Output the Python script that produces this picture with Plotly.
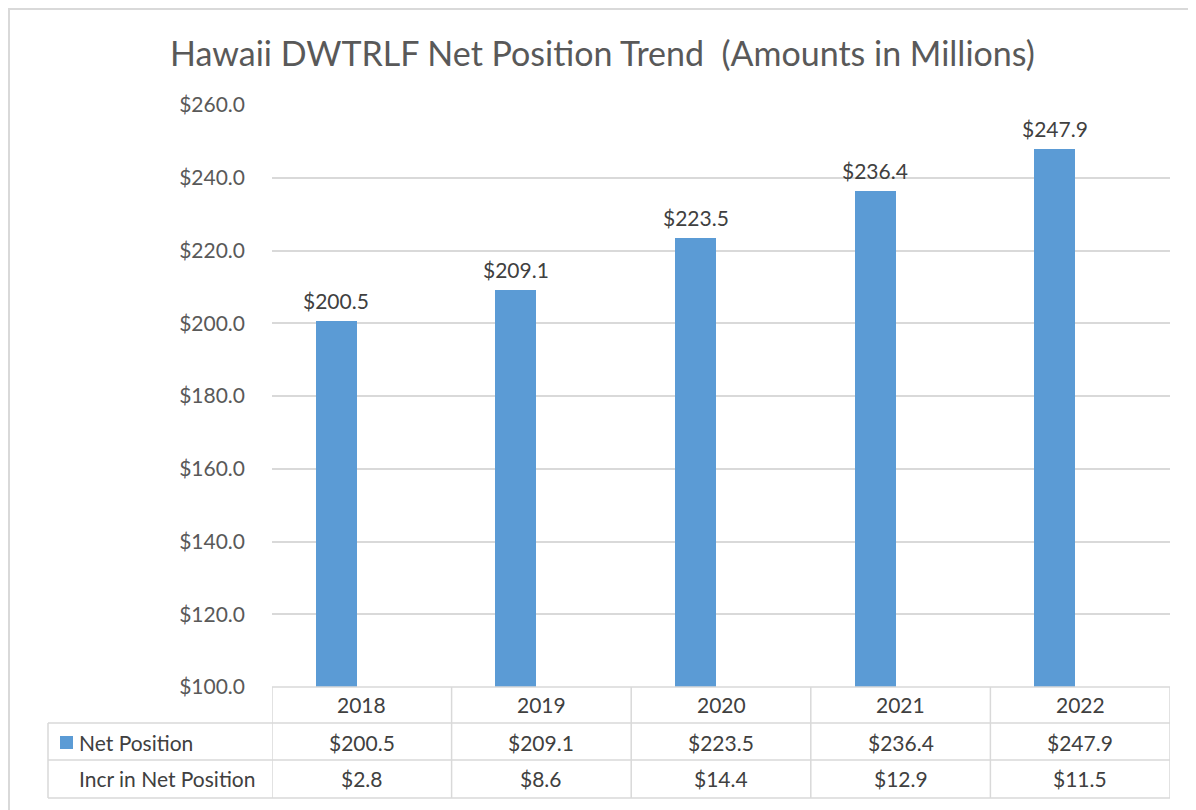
import plotly.graph_objects as go

years = ["2018", "2019", "2020", "2021", "2022"]
net_position = [200.5, 209.1, 223.5, 236.4, 247.9]
incr_net_position = [2.8, 8.6, 14.4, 12.9, 11.5]
row_labels = ["Net Position", "Incr in Net Position"]
title_text = "Hawaii DWTRLF Net Position Trend  (Amounts in Millions)"

OFF = 8  # page body margin
W, H = 1196 - OFF, 810 - OFF
L, R, T, B = 272, 1170, 105, 687  # in reference pixels
FONT = "Lato"
GRID = "#d9d9d9"
TXT = "#404040"
BAR = "#5B9BD5"
FS = 21
BAR_W, BAR_OFF = 0.228, -0.256


def px_x(px):
    return (px - L) / (R - L)


def px_y(py):
    return (B - py) / (B - T)


fig = go.Figure()
fig.add_trace(go.Bar(
    x=list(range(len(years))),
    y=net_position,
    width=BAR_W,
    offset=BAR_OFF,
    marker=dict(color=BAR, line=dict(width=0)),
    name="Net Position",
    showlegend=False,
    hovertemplate="%{y:$.1f}<extra></extra>",
))

shapes = []
line = dict(color=GRID, width=1.5)
# outer chart border (top & left)
shapes.append(dict(type="line", xref="paper", yref="paper", x0=px_x(OFF), x1=px_x(1196), y0=px_y(OFF + 1), y1=px_y(OFF + 1), line=dict(color=GRID, width=2)))
shapes.append(dict(type="line", xref="paper", yref="paper", x0=px_x(OFF + 1), x1=px_x(OFF + 1), y0=px_y(OFF), y1=px_y(810), line=dict(color=GRID, width=2)))

row_tops = [687, 723, 760, 798]
tbl_left = 48
# horizontal table lines
shapes.append(dict(type="line", xref="x", yref="paper", x0=-0.5, x1=len(years) - 0.5, y0=px_y(row_tops[0]), y1=px_y(row_tops[0]), line=line))
for ry in row_tops[1:]:
    shapes.append(dict(type="line", xref="paper", yref="paper", x0=px_x(tbl_left), x1=1, y0=px_y(ry), y1=px_y(ry), line=line))
# vertical table lines
shapes.append(dict(type="line", xref="paper", yref="paper", x0=px_x(tbl_left), x1=px_x(tbl_left), y0=px_y(row_tops[1]), y1=px_y(row_tops[3]), line=line))
for i in range(len(years) + 1):
    shapes.append(dict(type="line", xref="x", yref="paper", x0=i - 0.5, x1=i - 0.5, y0=px_y(row_tops[0]), y1=px_y(row_tops[3]), line=line))
# legend key
shapes.append(dict(type="rect", xref="paper", yref="paper", x0=px_x(60), x1=px_x(73), y0=px_y(749), y1=px_y(736), fillcolor=BAR, line=dict(width=0)))

ann = []
# data labels above bars
for i, v in enumerate(net_position):
    ann.append(dict(x=i + BAR_OFF + BAR_W / 2, xref="x", y=v, yref="y", text=f"${v:.1f}", showarrow=False,
                    font=dict(family=FONT, size=FS, color=TXT), xanchor="center", yanchor="bottom", yshift=6))

row_centers = [705, 742, 779]
for i, yr in enumerate(years):
    ann.append(dict(x=i, xref="x", y=px_y(row_centers[0]), yref="paper", text=yr, showarrow=False,
                    font=dict(family=FONT, size=FS, color=TXT), xanchor="center", yanchor="middle"))
    ann.append(dict(x=i, xref="x", y=px_y(row_centers[1]), yref="paper", text=f"${net_position[i]:.1f}", showarrow=False,
                    font=dict(family=FONT, size=FS, color=TXT), xanchor="center", yanchor="middle"))
    ann.append(dict(x=i, xref="x", y=px_y(row_centers[2]), yref="paper", text=f"${incr_net_position[i]:.1f}", showarrow=False,
                    font=dict(family=FONT, size=FS, color=TXT), xanchor="center", yanchor="middle"))
ann.append(dict(x=px_x(77), xref="paper", y=px_y(row_centers[1]), yref="paper", text=row_labels[0], showarrow=False,
                font=dict(family=FONT, size=FS, color=TXT), xanchor="left", yanchor="middle"))
ann.append(dict(x=px_x(77), xref="paper", y=px_y(row_centers[2]), yref="paper", text=row_labels[1], showarrow=False,
                font=dict(family=FONT, size=FS, color=TXT), xanchor="left", yanchor="middle"))
# title
ann.append(dict(x=px_x(602), xref="paper", y=px_y(52), yref="paper", text=title_text, showarrow=False,
                font=dict(family=FONT, size=34, color="#595959"), xanchor="center", yanchor="middle"))

fig.update_layout(
    width=W, height=H,
    margin=dict(l=L - OFF, r=1196 - R, t=T - OFF, b=810 - B, pad=0),
    paper_bgcolor="white", plot_bgcolor="white",
    shapes=shapes, annotations=ann,
    bargap=0,
    xaxis=dict(range=[-0.5, len(years) - 0.5], showticklabels=False, showgrid=False, zeroline=False,
               showline=False, ticks=""),
    yaxis=dict(range=[100, 260], dtick=20, tickprefix="$", tickformat=".1f", showgrid=True,
               gridcolor=GRID, gridwidth=1.5, zeroline=False, showline=False, ticks="",
               ticklabelstandoff=26,
               tickfont=dict(family=FONT, size=FS, color="#595959")),
    font=dict(family=FONT),
)

fig.write_html("out.html")
